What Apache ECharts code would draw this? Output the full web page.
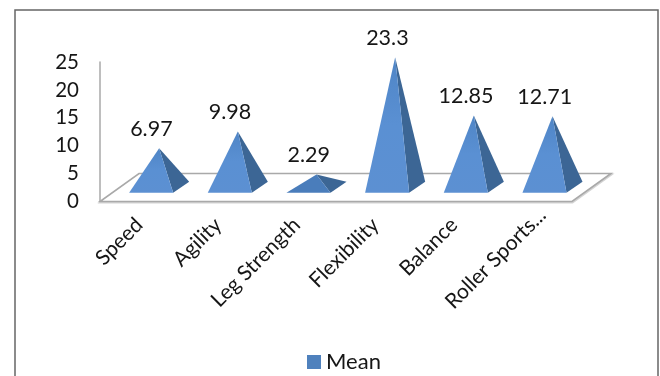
<!DOCTYPE html>
<html>
<head>
<meta charset="utf-8">
<style>html,body{margin:0;padding:0;background:#fff}#chart{width:660px;height:376px}</style>
<script src="https://cdn.jsdelivr.net/npm/echarts@6/dist/echarts.min.js"></script>
</head>
<body>
<div id="chart"></div>
<script>
const categories = ['Speed', 'Agility', 'Leg Strength', 'Flexibility', 'Balance', 'Roller Sports...'];
const meanValues = [6.97, 9.98, 2.29, 23.3, 12.85, 12.71];
const valueTicks = [0, 5, 10, 15, 20, 25];
const seriesName = 'Mean';

const FONT = 'Lato, Carlito, "Open Sans", sans-serif';
const TEXT = '#161616';
// Oblique projection of the chart floor: one full depth step on screen.
const FLOOR_DEPTH = [39, -28];

function renderFloor(params, api) {
  const c = params.coordSys;
  const x0 = c.x, x1 = c.x + c.width, y0 = c.y + c.height;
  const pts = [[x0, y0], [x1, y0], [x1 + FLOOR_DEPTH[0], y0 + FLOOR_DEPTH[1]], [x0 + FLOOR_DEPTH[0], y0 + FLOOR_DEPTH[1]]];
  return {
    type: 'group',
    children: [
      { type: 'polygon', shape: { points: pts.map(p => [p[0] + 0.5, p[1] + 1]) }, style: { fill: 'none', stroke: '#d4d4d4', lineWidth: 2 } },
      { type: 'polygon', shape: { points: pts }, style: { fill: '#fff', stroke: '#a9a9a9', lineWidth: 1.6 } }
    ]
  };
}

function renderPyramid(params, api) {
  const idx = api.value(0);
  const val = api.value(1);
  const bandW = api.size([1, 0])[0];
  const zero = api.coord([idx, 0]);
  const top = api.coord([idx, val]);
  const w = bandW * 0.56;              // front edge length
  const depth = [w * 0.364, -w * 0.25]; // receding edge of the base
  const fl = [zero[0] - bandW * 0.13, zero[1] - 8.8];
  const fr = [fl[0] + w, fl[1]];
  const br = [fr[0] + depth[0], fr[1] + depth[1]];
  const cx = fl[0] + (w + depth[0]) / 2;
  const cy = fl[1] + depth[1] / 2;
  const apex = [cx, cy - (zero[1] - top[1])];
  // A squat pyramid catches less light on its front face.
  const frontFill = val < 5 ? '#4a7dbb' : {
    type: 'linear', x: 0, y: 0, x2: 0, y2: 1,
    colorStops: [{ offset: 0, color: '#4f85c6' }, { offset: 0.5, color: '#5a90d3' }, { offset: 1, color: '#5c90d2' }]
  };
  return {
    type: 'group',
    children: [
      { type: 'polygon', shape: { points: [fr, br, apex] }, style: { fill: '#3c6695' } },
      { type: 'polygon', shape: { points: [fl, fr, apex] }, style: { fill: frontFill } },
      {
        type: 'text',
        style: {
          x: zero[0] + bandW * 0.153,
          y: apex[1] - 19,
          text: String(val),
          font: '21.5px ' + FONT,
          fill: TEXT,
          align: 'center',
          verticalAlign: 'middle'
        }
      }
    ]
  };
}

const chart = echarts.init(document.getElementById('chart'), null, { renderer: 'canvas' });
chart.setOption({
  animation: false,
  backgroundColor: '#fff',
  graphic: [{
    type: 'rect',
    shape: { x: 15, y: 10, width: 643, height: 400 },
    style: { fill: 'none', stroke: '#666', lineWidth: 1.5 },
    silent: true
  }],
  grid: { left: 100, top: 62, width: 472, height: 139.5 },
  legend: {
    data: [seriesName],
    left: 302,
    top: 346,
    itemWidth: 14,
    itemHeight: 14,
    itemGap: 6,
    icon: 'rect',
    textStyle: { fontFamily: FONT, fontSize: 22, color: TEXT }
  },
  xAxis: {
    type: 'category',
    data: categories,
    axisLine: { show: false },
    axisTick: { show: false },
    axisLabel: {
      interval: 0,
      rotate: 45,
      margin: 20,
      fontFamily: FONT,
      fontSize: 21,
      color: TEXT,
      // The truncated last label sits further along its baseline than the others.
      formatter: (v, i) => i === categories.length - 1 ? '{far|' + v + '}' : v,
      rich: { far: { fontFamily: FONT, fontSize: 21, color: TEXT, padding: [0, -14, 0, 0] } }
    }
  },
  yAxis: {
    type: 'value',
    min: 0,
    max: 25,
    interval: 5,
    axisLine: { show: true, lineStyle: { color: '#a9a9a9', width: 1.5 } },
    axisTick: { show: false },
    splitLine: { show: false },
    axisLabel: {
      margin: 21,
      fontFamily: FONT,
      fontSize: 20.5,
      color: TEXT,
      formatter: v => valueTicks.includes(v) ? String(v) : ''
    }
  },
  series: [
    {
      name: 'floor',
      type: 'custom',
      renderItem: renderFloor,
      data: [[0, 0]],
      z: 1,
      silent: true,
      clip: false
    },
    {
      name: seriesName,
      type: 'custom',
      renderItem: renderPyramid,
      encode: { x: 0, y: 1 },
      data: meanValues.map((v, i) => [i, v]),
      itemStyle: { color: '#4f81bd' },
      z: 2,
      clip: false
    }
  ]
});
</script>
</body>
</html>
